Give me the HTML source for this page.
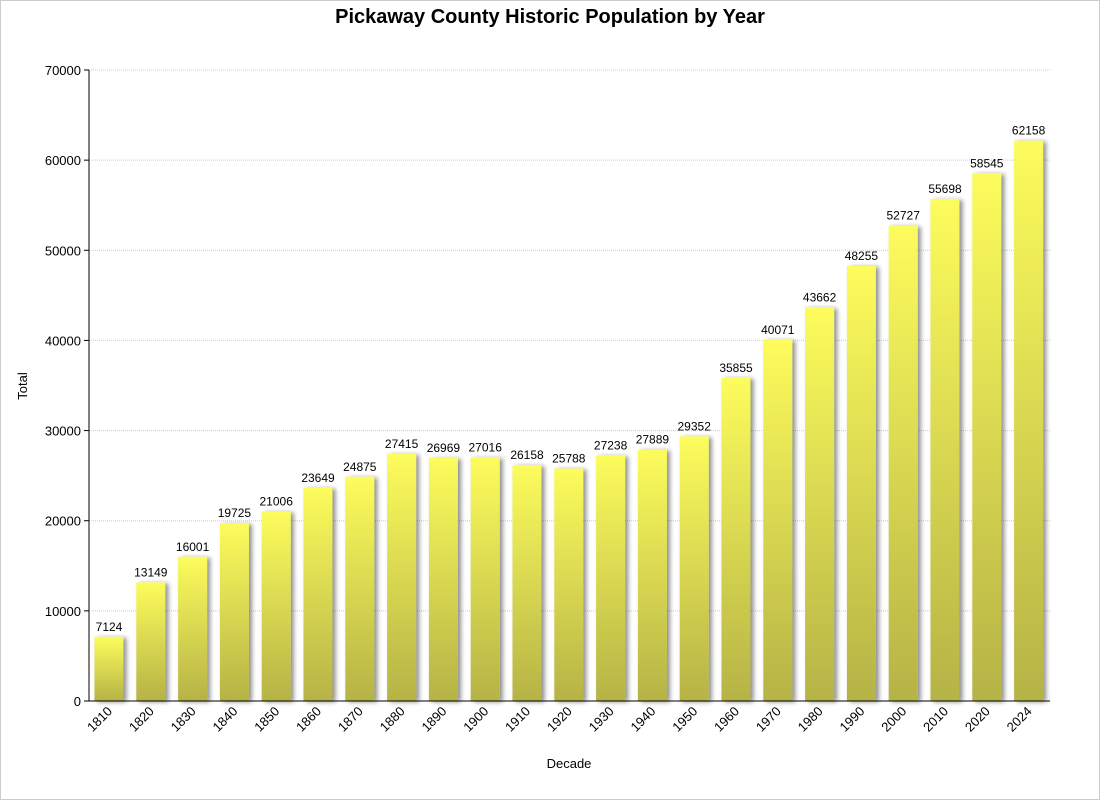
<!DOCTYPE html>
<html><head><meta charset="utf-8"><style>
body{margin:0;background:#fff}
svg{display:block;font-family:"Liberation Sans",sans-serif}
</style></head><body>
<svg width="1100" height="800" viewBox="0 0 1100 800">
<defs>
<linearGradient id="g" x1="0" y1="0" x2="0" y2="1">
<stop offset="0" stop-color="#fcfc5c"/><stop offset="1" stop-color="#b6b346"/>
</linearGradient>
<filter id="sh" x="-30%" y="-10%" width="160%" height="120%">
<feGaussianBlur in="SourceAlpha" stdDeviation="2.5"/>
<feOffset dx="3" dy="1"/>
<feComponentTransfer><feFuncA type="linear" slope="0.45"/></feComponentTransfer>
<feMerge><feMergeNode/><feMergeNode in="SourceGraphic"/></feMerge>
</filter>
</defs>
<rect x="0.5" y="0.5" width="1099" height="799" fill="#fff" stroke="#ccc"/>
<text x="550" y="23" text-anchor="middle" font-size="20" font-weight="bold" fill="#000">Pickaway County Historic Population by Year</text>
<g id="grid" stroke="#ccc" stroke-dasharray="1,1" stroke-width="1"></g>
<g id="bars"></g>
<line x1="89" y1="70" x2="89" y2="701" stroke="#000"/>
<line x1="89" y1="701" x2="1050" y2="701" stroke="#000"/>
<g id="yl" font-size="13" text-anchor="end"></g>
<g id="xl" font-size="13"></g>
<text x="569" y="768" text-anchor="middle" font-size="13">Decade</text>
<text transform="translate(27,386) rotate(-90)" text-anchor="middle" font-size="13">Total</text>
</svg>
<script>
var ns="http://www.w3.org/2000/svg";
function el(t,a,p,tx){var e=document.createElementNS(ns,t);for(var k in a)e.setAttribute(k,a[k]);if(tx!=null)e.textContent=tx;p.appendChild(e);return e;}
var Y=function(v){return 701-v*631/70000;};
var grid=document.getElementById('grid'),yl=document.getElementById('yl');
for(var v=0;v<=70000;v+=10000){var y=Y(v);
 if(v>0)el('line',{x1:89,y1:y,x2:1050,y2:y},grid);
 el('line',{x1:84,y1:y,x2:89,y2:y,stroke:'#000'},yl);
 el('text',{x:81,y:y+5},yl,String(v));}
var yrs=[1810,1820,1830,1840,1850,1860,1870,1880,1890,1900,1910,1920,1930,1940,1950,1960,1970,1980,1990,2000,2010,2020,2024];
var vals=[7124,13149,16001,19725,21006,23649,24875,27415,26969,27016,26158,25788,27238,27889,29352,35855,40071,43662,48255,52727,55698,58545,62158];
var bars=document.getElementById('bars'),xl=document.getElementById('xl');
for(var i=0;i<yrs.length;i++){var cx=109+i*41.8,y=Y(vals[i]);
 el('rect',{x:cx-14.5,y:y,width:29,height:701-y,fill:'url(#g)',filter:'url(#sh)'},bars);
 el('text',{x:cx,y:y-6,'text-anchor':'middle','font-size':12},bars,String(vals[i]));
 el('text',{transform:'translate('+(cx+4)+',712) rotate(-45)','text-anchor':'end'},xl,String(yrs[i]));}
</script>
</body></html>
